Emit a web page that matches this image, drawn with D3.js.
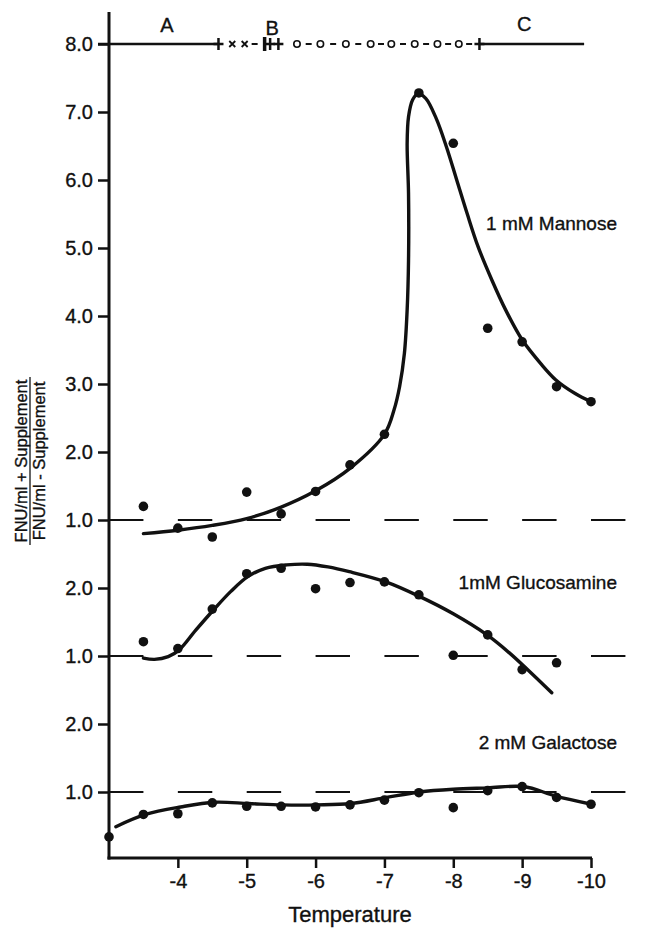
<!DOCTYPE html>
<html>
<head>
<meta charset="utf-8">
<script src="https://cdnjs.cloudflare.com/ajax/libs/d3/7.8.5/d3.min.js"></script>
<style>
  body { margin: 0; background: #fff; }
  svg  { display: block; font-family: "Liberation Sans", Arial, Helvetica, sans-serif; }
  text { stroke: #111; stroke-width: 0.35px; }
</style>
</head>
<body>
<svg id="chart"></svg>
<script>
////////////////////////////////////////////////////////////////////////////////////////////////////
//                       Data (temperature in degrees C)                      //
////////////////////////////////////////////////////////////////////////////////////////////////////

const xTicks        = [ -4, -5, -6, -7, -8, -9, -10 ];
const xTitle        = 'Temperature';
const yTitleTop     = 'FNU/ml + Supplement';
const yTitleBottom  = 'FNU/ml - Supplement';

// Mannose.
const mannoseName   = '1 mM Mannose';
const mannoseTicks  = [ 1, 2, 3, 4, 5, 6, 7, 8 ];
const mannoseTemps  = [ -3.5, -4, -4.5, -5, -5.5, -6, -6.5, -7, -7.5, -8, -8.5, -9, -9.5, -10 ];
const mannoseValues = [ 1.2, 0.88, 0.75, 1.41, 1.09, 1.42, 1.81, 2.26, 7.28, 6.54, 3.82, 3.62, 2.96, 2.74 ];
const mannoseCurve  = [
  [ -3.5, 0.80 ], [ -4, 0.85 ], [ -4.5, 0.92 ], [ -5, 1.02 ], [ -5.5, 1.19 ], [ -6, 1.43 ],
  [ -6.5, 1.76 ], [ -7, 2.26 ], [ -7.14, 2.62 ], [ -7.22, 2.96 ], [ -7.29, 3.45 ], [ -7.33, 4.09 ],
  [ -7.35, 4.82 ], [ -7.35, 5.8 ], [ -7.33, 6.54 ], [ -7.35, 6.93 ], [ -7.41, 7.18 ], [ -7.49, 7.27 ],
  [ -7.6, 7.2 ], [ -7.75, 6.91 ], [ -7.9, 6.49 ], [ -8.05, 6.0 ], [ -8.2, 5.51 ], [ -8.36, 5.02 ],
  [ -8.56, 4.53 ], [ -8.76, 4.09 ], [ -9.0, 3.65 ], [ -9.27, 3.3 ], [ -9.49, 3.06 ], [ -9.77, 2.86 ],
  [ -10, 2.74 ]
];

// Glucosamine.
const glucoName     = '1mM Glucosamine';
const glucoTicks    = [ 1, 2 ];
const glucoTemps    = [ -3.5, -4, -4.5, -5, -5.5, -6, -6.5, -7, -7.5, -8, -8.5, -9, -9.5 ];
const glucoValues   = [ 1.21, 1.11, 1.69, 2.21, 2.29, 1.99, 2.08, 2.09, 1.9, 1.01, 1.31, 0.8, 0.9 ];
const glucoCurve    = [
  [ -3.5, 0.97 ], [ -3.66, 0.95 ], [ -3.86, 0.99 ], [ -4.02, 1.09 ], [ -4.26, 1.38 ], [ -4.52, 1.68 ],
  [ -4.77, 1.95 ], [ -5.02, 2.17 ], [ -5.27, 2.29 ], [ -5.58, 2.34 ], [ -5.88, 2.35 ], [ -6.18, 2.31 ],
  [ -6.49, 2.24 ], [ -7.02, 2.09 ], [ -7.5, 1.88 ], [ -8.0, 1.62 ], [ -8.49, 1.31 ], [ -8.81, 1.05 ],
  [ -9.1, 0.78 ], [ -9.43, 0.46 ]
];

// Galactose.
const galactoName   = '2 mM Galactose';
const galactoTicks  = [ 1, 2 ];
const galactoTemps  = [ -3, -3.5, -4, -4.5, -5, -5.5, -6, -6.5, -7, -7.5, -8, -8.5, -9, -9.5, -10 ];
const galactoValues = [ 0.34, 0.67, 0.68, 0.84, 0.79, 0.79, 0.78, 0.81, 0.88, 0.99, 0.77, 1.02, 1.08, 0.92, 0.82 ];
const galactoCurve  = [
  [ -3.1, 0.49 ], [ -3.53, 0.67 ], [ -4.04, 0.78 ], [ -4.53, 0.85 ], [ -5.03, 0.83 ],
  [ -5.52, 0.81 ], [ -6.03, 0.81 ], [ -6.51, 0.83 ], [ -7.03, 0.92 ], [ -7.51, 1.0 ], [ -8.0, 1.04 ],
  [ -8.5, 1.06 ], [ -9.02, 1.08 ], [ -9.49, 0.94 ], [ -10.01, 0.82 ]
];

// Freezing-behaviour band along the 8.0 line (A, B, C zones and their markers).
const bandLabels    = [ 'A', 'B', 'C' ];
const bandLabelAt   = [ -3.84, -5.37, -9.03 ];
const bandPlus      = [ -4.59, -5.34, -5.46, -8.38 ];
const bandCross     = [ -4.79, -4.97 ];
const bandBar       = [ -5.26 ];
const bandCircles   = [ -5.73, -6.07, -6.44, -6.80, -7.10, -7.44, -7.77, -8.08 ];
const bandEnd       = -9.9;

////////////////////////////////////////////////////////////////////////////////////////////////////

class ChartBuilder {

  constructor ( ) {
    this.width  = 646;
    this.height = 930;
    this.ink    = '#111';
    // Temperature axis and one shared vertical scale; each panel is shifted by an offset.
    this.x      = d3.scaleLinear( ).domain( [ -3, -10 ] ).range( [ 109, 591 ] );
    this.y      = d3.scaleLinear( ).domain( [ 1, 12 ] ).range( [ 792, 44 ] );
    this.axisY  = 858;
    this.panels = [
      { name: mannoseName, ticks: mannoseTicks, temps: mannoseTemps, values: mannoseValues, curve: mannoseCurve, offset: 4, labelY: 230 },
      { name: glucoName,   ticks: glucoTicks,   temps: glucoTemps,   values: glucoValues,   curve: glucoCurve,   offset: 2, labelY: 589 },
      { name: galactoName, ticks: galactoTicks, temps: galactoTemps, values: galactoValues, curve: galactoCurve, offset: 0, labelY: 749 }
    ];
  }

  makeCanvas ( ) {
    this.svg = d3.select( '#chart' )
      .attr( 'width', this.width )
      .attr( 'height', this.height );
    this.svg.append( 'rect' )
      .attr( 'width', this.width ).attr( 'height', this.height ).attr( 'fill', '#fff' );
    return this;
  }

  drawAxes ( ) {
    const x = this.x, y = this.y;

    // Vertical axis: all panels stacked on one line, labels per panel.
    const yTickValues = [ ], yTickLabels = new Map( );
    this.panels.forEach( p => p.ticks.forEach( t => {
      yTickValues.push( t + p.offset );
      yTickLabels.set( t + p.offset, t.toFixed( 1 ) );
    } ) );
    const yAxis = this.svg.append( 'g' )
      .attr( 'transform', `translate( ${x( -3 )}, 0 )` )
      .call( d3.axisLeft( y ).tickValues( yTickValues ).tickSize( 11 ).tickPadding( 5 )
        .tickFormat( d => yTickLabels.get( d ) ) );
    yAxis.select( '.domain' ).remove( );
    yAxis.selectAll( 'line' ).attr( 'stroke', this.ink ).attr( 'stroke-width', 2.5 );
    yAxis.selectAll( 'text' ).attr( 'fill', this.ink ).attr( 'font-size', 20 ).attr( 'font-family', null );
    this.svg.append( 'line' )
      .attr( 'x1', x( -3 ) ).attr( 'x2', x( -3 ) ).attr( 'y1', 12 ).attr( 'y2', this.axisY + 1.5 )
      .attr( 'stroke', this.ink ).attr( 'stroke-width', 3 );

    // Temperature axis.
    const xAxis = this.svg.append( 'g' )
      .attr( 'transform', `translate( 0, ${this.axisY} )` )
      .call( d3.axisBottom( x ).tickValues( xTicks ).tickSize( 10 ).tickPadding( 6 )
        .tickFormat( d => String( d ) ) );
    xAxis.select( '.domain' ).remove( );
    xAxis.selectAll( 'line' ).attr( 'stroke', this.ink ).attr( 'stroke-width', 2.5 );
    xAxis.selectAll( 'text' ).attr( 'fill', this.ink ).attr( 'font-size', 20 ).attr( 'font-family', null );
    this.svg.append( 'line' )
      .attr( 'x1', x( -3 ) - 1.5 ).attr( 'x2', x( -10 ) + 1 ).attr( 'y1', this.axisY ).attr( 'y2', this.axisY )
      .attr( 'stroke', this.ink ).attr( 'stroke-width', 3 );

    this.svg.append( 'text' )
      .attr( 'x', ( x( -3 ) + x( -10 ) ) / 2 ).attr( 'y', 922 )
      .attr( 'text-anchor', 'middle' ).attr( 'font-size', 22 ).attr( 'fill', this.ink )
      .text( xTitle );

    // Axis title written as a fraction.
    const title = this.svg.append( 'g' ).attr( 'transform', 'translate( 30, 461 ) rotate( -90 )' );
    title.append( 'text' ).attr( 'y', -3 ).attr( 'text-anchor', 'middle' )
      .attr( 'font-size', 16.5 ).attr( 'fill', this.ink ).text( yTitleTop );
    title.append( 'text' ).attr( 'y', 15 ).attr( 'text-anchor', 'middle' )
      .attr( 'font-size', 16.5 ).attr( 'fill', this.ink ).text( yTitleBottom );
    title.append( 'line' ).attr( 'x1', -84 ).attr( 'x2', 84 ).attr( 'y1', 0 ).attr( 'y2', 0 )
      .attr( 'stroke', this.ink ).attr( 'stroke-width', 1.3 );
    return this;
  }

  drawPanels ( ) {
    const x = this.x, y = this.y;
    const dash = x( -3.5 ) - x( -3 );
    const line = d3.line( ).curve( d3.curveCatmullRom.alpha( 0.5 ) );

    this.panels.forEach( p => {
      const py = v => y( v + p.offset );

      // Dashed 1.0 reference line.
      this.svg.append( 'line' )
        .attr( 'x1', x( -3 ) ).attr( 'x2', x( -10.5 ) ).attr( 'y1', py( 1 ) ).attr( 'y2', py( 1 ) )
        .attr( 'stroke', this.ink ).attr( 'stroke-width', 2 ).attr( 'stroke-dasharray', `${dash} ${dash}` );

      // Hand-drawn curve.
      this.svg.append( 'path' )
        .attr( 'd', line( p.curve.map( d => [ x( d[0] ), py( d[1] ) ] ) ) )
        .attr( 'fill', 'none' ).attr( 'stroke', this.ink )
        .attr( 'stroke-width', 3.4 ).attr( 'stroke-linecap', 'round' ).attr( 'stroke-linejoin', 'round' );

      // Measured points.
      this.svg.append( 'g' ).selectAll( 'circle' )
        .data( p.temps.map( ( t, i ) => [ t, p.values[i] ] ) )
        .enter( ).append( 'circle' )
        .attr( 'cx', d => x( d[0] ) ).attr( 'cy', d => py( d[1] ) ).attr( 'r', 4.8 )
        .attr( 'fill', this.ink );

      this.svg.append( 'text' )
        .attr( 'x', 617 ).attr( 'y', p.labelY ).attr( 'text-anchor', 'end' )
        .attr( 'font-size', 19 ).attr( 'fill', this.ink ).text( p.name );
    } );
    return this;
  }

  drawBand ( ) {
    const x = this.x, by = this.y( 12 );
    const g = this.svg.append( 'g' ).attr( 'stroke', this.ink ).attr( 'fill', 'none' );

    // Solid stretches before and after the transition zone.
    const first = d3.max( bandPlus ), last = d3.min( bandPlus );
    g.append( 'line' ).attr( 'x1', x( -3 ) - 11 ).attr( 'x2', x( first ) ).attr( 'y1', by ).attr( 'y2', by )
      .attr( 'stroke-width', 2.5 );
    g.append( 'line' ).attr( 'x1', x( last ) ).attr( 'x2', x( bandEnd ) ).attr( 'y1', by ).attr( 'y2', by )
      .attr( 'stroke-width', 2.5 );

    // Short dashes between the symbols inside the zone.
    const marks = [ ...bandPlus, ...bandCross, ...bandBar, ...bandCircles ].sort( ( a, b ) => b - a );
    d3.pairs( marks ).forEach( ( [ a, b ] ) => {
      if ( x( b ) - x( a ) < 19.5 ) return;
      const m = ( x( a ) + x( b ) ) / 2;
      g.append( 'line' ).attr( 'x1', m - 3 ).attr( 'x2', m + 3 ).attr( 'y1', by ).attr( 'y2', by )
        .attr( 'stroke-width', 2 );
    } );

    g.selectAll( '.plus' ).data( bandPlus ).enter( ).append( 'path' )
      .attr( 'd', t => `M${x( t ) - 5},${by}H${x( t ) + 5}M${x( t )},${by - 6}V${by + 6}` )
      .attr( 'stroke-width', 2.5 );
    g.selectAll( '.bar' ).data( bandBar ).enter( ).append( 'line' )
      .attr( 'x1', t => x( t ) ).attr( 'x2', t => x( t ) ).attr( 'y1', by - 7 ).attr( 'y2', by + 7 )
      .attr( 'stroke-width', 3.5 );
    g.selectAll( '.cross' ).data( bandCross ).enter( ).append( 'path' )
      .attr( 'd', t => `M${x( t ) - 3},${by - 3}L${x( t ) + 3},${by + 3}M${x( t ) - 3},${by + 3}L${x( t ) + 3},${by - 3}` )
      .attr( 'stroke-width', 1.8 );
    g.selectAll( '.ring' ).data( bandCircles ).enter( ).append( 'circle' )
      .attr( 'cx', t => x( t ) ).attr( 'cy', by ).attr( 'r', 3.2 ).attr( 'stroke-width', 1.6 )
      .attr( 'fill', '#fff' );

    const dy = [ 32, 35, 31 ];
    this.svg.selectAll( '.zone' ).data( bandLabels ).enter( ).append( 'text' )
      .attr( 'x', ( d, i ) => x( bandLabelAt[i] ) ).attr( 'y', ( d, i ) => dy[i] )
      .attr( 'text-anchor', 'middle' ).attr( 'font-size', 20 ).attr( 'fill', this.ink )
      .text( d => d );
    return this;
  }

}

new ChartBuilder( ).makeCanvas( ).drawAxes( ).drawPanels( ).drawBand( );
</script>
</body>
</html>
